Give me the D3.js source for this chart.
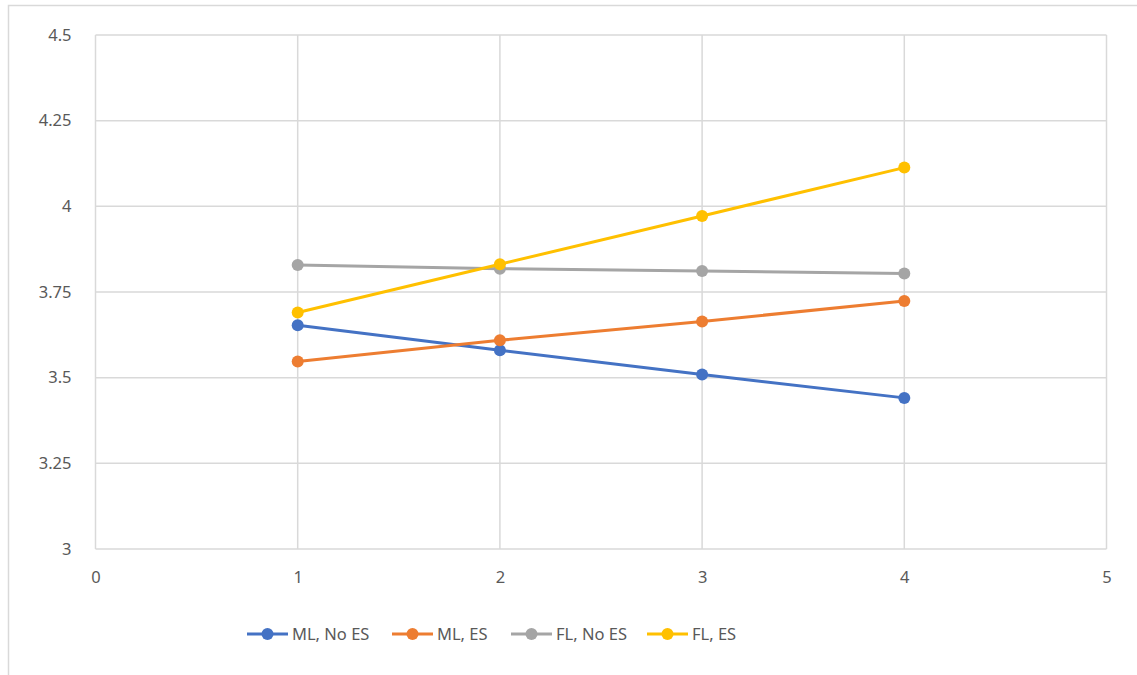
<!DOCTYPE html>
<html>
<head>
<meta charset="utf-8">
<script src="https://cdn.jsdelivr.net/npm/d3@7"></script>
<style>
  html, body { margin: 0; padding: 0; background: #fff; }
  svg { display: block; }
  text { font-family: "Noto Sans", "Open Sans", sans-serif; fill: #595959; }
</style>
</head>
<body>
<svg id="chart" width="1137" height="675"></svg>
<script>
// Series data: x positions shared by all four series
const xValues = [1, 2, 3, 4];
const mlNoEs = [3.653, 3.58, 3.509, 3.441];
const mlEs   = [3.547, 3.609, 3.664, 3.724];
const flNoEs = [3.829, 3.818, 3.811, 3.804];
const flEs   = [3.690, 3.831, 3.972, 4.113];

const seriesNames  = ["ML, No ES", "ML, ES", "FL, No ES", "FL, ES"];
const seriesValues = [mlNoEs, mlEs, flNoEs, flEs];
const seriesColors = ["#4472C4", "#ED7D31", "#A5A5A5", "#FFC000"];

// Axis ticks
const xTicks = [0, 1, 2, 3, 4, 5];
const yTicks = [3, 3.25, 3.5, 3.75, 4, 4.25, 4.5];

const svg = d3.select("#chart");
const plot = { left: 95.5, right: 1106.5, top: 35, bottom: 549 };

const x = d3.scaleLinear().domain([0, 5]).range([plot.left, plot.right]);
const y = d3.scaleLinear().domain([3, 4.5]).range([plot.bottom, plot.top]);

// Outer chart frame
svg.append("rect")
  .attr("x", 8.5).attr("y", 5.5)
  .attr("width", 1200).attr("height", 700)
  .attr("fill", "none").attr("stroke", "#d9d9d9").attr("stroke-width", 1.5);

// Gridlines
const grid = svg.append("g");
grid.selectAll("line.h").data(yTicks).join("line")
  .attr("x1", plot.left).attr("x2", plot.right)
  .attr("y1", d => y(d)).attr("y2", d => y(d))
  .attr("stroke", "#d9d9d9").attr("stroke-width", 1.5);
grid.selectAll("line.v").data(xTicks).join("line")
  .attr("y1", plot.top).attr("y2", plot.bottom)
  .attr("x1", d => x(d)).attr("x2", d => x(d))
  .attr("stroke", "#d9d9d9").attr("stroke-width", 1.5);

// Axes (labels only, gridlines drawn above)
const yAxis = svg.append("g")
  .attr("transform", `translate(${plot.left},0)`)
  .call(d3.axisLeft(y).tickValues(yTicks).tickSize(0).tickPadding(24)
    .tickFormat(d => String(d)));
const xAxis = svg.append("g")
  .attr("transform", `translate(0,${plot.bottom})`)
  .call(d3.axisBottom(x).tickValues(xTicks).tickSize(0).tickPadding(22)
    .tickFormat(d => String(d)));
[yAxis, xAxis].forEach(a => {
  a.select(".domain").remove();
  a.selectAll("text").style("font-size", "16.5px").attr("fill", "#595959");
});

// Series lines and markers
const line = d3.line().x(d => x(d[0])).y(d => y(d[1]));
seriesValues.forEach((vals, i) => {
  const pts = xValues.map((xv, j) => [xv, vals[j]]);
  const g = svg.append("g");
  g.append("path")
    .attr("d", line(pts))
    .attr("fill", "none")
    .attr("stroke", seriesColors[i])
    .attr("stroke-width", 3)
    .attr("stroke-linejoin", "round")
    .attr("stroke-linecap", "round");
  g.selectAll("circle").data(pts).join("circle")
    .attr("cx", d => x(d[0])).attr("cy", d => y(d[1]))
    .attr("r", 6)
    .attr("fill", seriesColors[i]);
});

// Legend
const legendX = [247, 392, 511, 647];
const legendY = 634;
const legend = svg.append("g");
seriesNames.forEach((name, i) => {
  const lx = legendX[i];
  legend.append("line")
    .attr("x1", lx).attr("x2", lx + 41)
    .attr("y1", legendY).attr("y2", legendY)
    .attr("stroke", seriesColors[i]).attr("stroke-width", 3);
  legend.append("circle")
    .attr("cx", lx + 20.5).attr("cy", legendY).attr("r", 6)
    .attr("fill", seriesColors[i]);
  legend.append("text")
    .attr("x", lx + 45).attr("y", legendY)
    .attr("dy", "0.35em")
    .style("font-size", "16.5px")
    .text(name);
});
</script>
</body>
</html>
